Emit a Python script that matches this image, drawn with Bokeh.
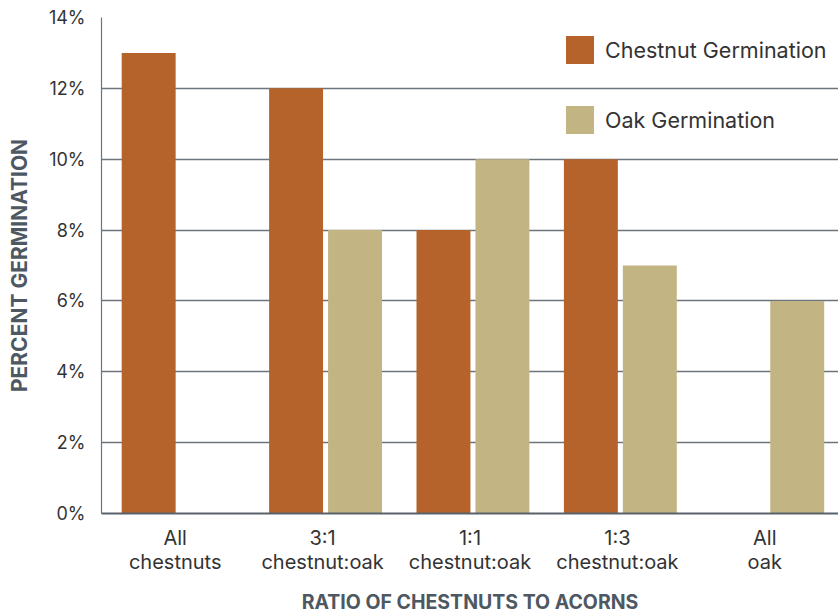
from bokeh.plotting import figure
from bokeh.models import ColumnDataSource, FixedTicker, Legend, LegendItem, Range1d
from bokeh.transform import dodge
from bokeh.embed import file_html
from bokeh.resources import INLINE

# ---- data ----
categories = ["All\nchestnuts", "3:1\nchestnut:oak", "1:1\nchestnut:oak",
              "1:3\nchestnut:oak", "All\noak"]
chestnut_germination = [13, 12, 8, 10, 0]
oak_germination = [0, 8, 10, 7, 6]
y_ticks = [0, 2, 4, 6, 8, 10, 12, 14]
y_tick_labels = ["0%", "2%", "4%", "6%", "8%", "10%", "12%", "14%"]
series_names = ["Chestnut Germination", "Oak Germination"]

CHESTNUT = "#b5622b"
OAK = "#c3b583"
FONT = "Inter"
TEXT = "#333333"
TITLE = "#4d5862"
GRID = "#6c757d"

x_pos = [i + 0.5 for i in range(len(categories))]
src = ColumnDataSource(dict(x=x_pos, chestnut=chestnut_germination, oak=oak_germination))

p = figure(width=838, height=616, output_backend="svg", toolbar_location=None,
           x_range=Range1d(0, len(categories)), y_range=Range1d(0, 14),
           min_border_left=101, min_border_right=0, min_border_top=17,
           min_border_bottom=102)

bw = 0.366
r1 = p.vbar(x=dodge("x", -0.18, range=p.x_range), top="chestnut", width=bw,
            source=src, fill_color=CHESTNUT, line_color=None)
r2 = p.vbar(x=dodge("x", 0.22, range=p.x_range), top="oak", width=bw,
            source=src, fill_color=OAK, line_color=None)

p.outline_line_color = None
p.background_fill_color = "white"
p.border_fill_color = "white"

# grid
p.xgrid.grid_line_color = None
p.ygrid.ticker = FixedTicker(ticks=y_ticks)
p.ygrid.grid_line_color = GRID
p.ygrid.grid_line_width = 1.5
p.ygrid.level = "underlay"

# y axis
ya = p.yaxis[0]
ya.ticker = FixedTicker(ticks=y_ticks)
ya.major_label_overrides = {t: l for t, l in zip(y_ticks, y_tick_labels)}
ya.major_tick_out = 0
ya.major_tick_in = 0
ya.minor_tick_out = 0
ya.minor_tick_in = 0
ya.axis_line_color = GRID
ya.axis_line_width = 1.2
ya.major_label_standoff = 16
ya.major_label_text_font = FONT
ya.major_label_text_font_size = "18px"
ya.major_label_text_color = TEXT
ya.axis_label = "PERCENT GERMINATION"
ya.axis_label_text_font = FONT
ya.axis_label_text_font_style = "bold"
ya.axis_label_text_font_size = "21px"
ya.axis_label_text_color = TITLE
ya.axis_label_standoff = 14

# x axis
xa = p.xaxis[0]
xa.ticker = FixedTicker(ticks=x_pos)
xa.major_label_overrides = {x: c for x, c in zip(x_pos, categories)}
xa.major_tick_out = 0
xa.major_tick_in = 0
xa.minor_tick_out = 0
xa.minor_tick_in = 0
xa.axis_line_color = "#59626a"
xa.axis_line_width = 2
xa.major_label_standoff = 12
xa.major_label_text_font = FONT
xa.major_label_text_font_size = "20px"
xa.major_label_text_color = TEXT
xa.major_label_text_line_height = 1.0
xa.axis_label = "RATIO OF CHESTNUTS TO ACORNS"
xa.axis_label_text_font = FONT
xa.axis_label_text_font_style = "bold"
xa.axis_label_text_font_size = "19.5px"
xa.axis_label_text_color = TITLE
xa.axis_label_standoff = 13

legend = Legend(items=[LegendItem(label=series_names[0], renderers=[r1]),
                       LegendItem(label=series_names[1], renderers=[r2])],
                location=(461, 376), orientation="vertical",
                glyph_width=35, glyph_height=35, spacing=35, label_standoff=8,
                padding=0, margin=0, border_line_color=None,
                background_fill_alpha=0,
                label_text_font=FONT, label_text_font_size="21.5px",
                label_text_color=TEXT)
p.add_layout(legend, "center")

open("out.html", "w").write(file_html(p, INLINE))
